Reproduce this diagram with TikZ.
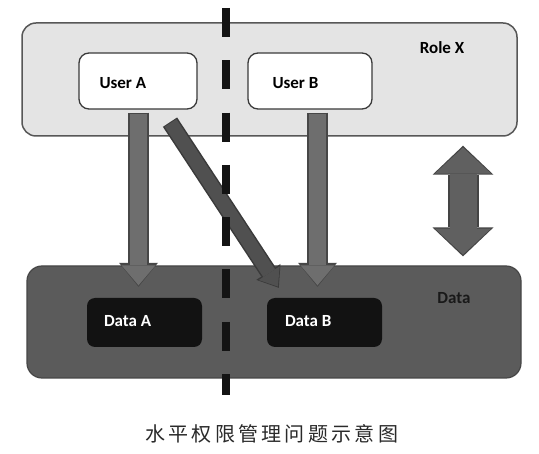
\documentclass[tikz,border=0pt]{standalone}
\usepackage{fontspec}
\setmainfont{Carlito}
\newfontfamily\cjk{Noto Sans CJK SC}[LetterSpace=16.5]
\usetikzlibrary{arrows.meta,calc}
\definecolor{rolefill}{HTML}{E4E4E4}
\definecolor{rolestroke}{HTML}{575757}
\definecolor{userstroke}{HTML}{3A3A3A}
\definecolor{datafill}{HTML}{5B5B5B}
\definecolor{datastroke}{HTML}{464646}
\definecolor{itemfill}{HTML}{121212}
\definecolor{arrowbody}{HTML}{6E6E6E}
\definecolor{arrowedge}{HTML}{474747}
\definecolor{diagbody}{HTML}{505050}
\definecolor{diagedge}{HTML}{3A3A3A}
\definecolor{dblbody}{HTML}{606060}
\definecolor{dbledge}{HTML}{444444}
\definecolor{captxt}{HTML}{2A2A2A}
\tikzset{
  rolebox/.style={draw=rolestroke, line width=1.5pt, fill=rolefill, rounded corners=14pt, inner sep=0pt},
  userbox/.style={draw=userstroke, line width=1.3pt, fill=white, rounded corners=10pt, inner sep=0pt},
  databox/.style={draw=datastroke, line width=1.2pt, fill=datafill, rounded corners=15pt, inner sep=0pt},
  itembox/.style={fill=itemfill, rounded corners=8pt, inner sep=0pt},
  lbl/.style={font=\fontsize{17}{20}\selectfont\bfseries, inner sep=0pt},
  vedge/.style={draw=arrowedge, line width=21.5pt, shorten <=3pt, shorten >=11pt,
    -{Triangle[width=39pt,length=24pt,line width=0pt]}},
  vbody/.style={draw=arrowbody, line width=17pt, shorten <=4pt, shorten >=12.5pt,
    -{Triangle[width=34pt,length=20pt,line width=0pt]}},
  dedge/.style={draw=diagedge, line width=17pt, shorten <=0pt, shorten >=0pt,
    -{Triangle[width=29pt,length=19pt,line width=0pt]}},
  dbody/.style={draw=diagbody, line width=14pt, shorten <=1pt, shorten >=1.5pt,
    -{Triangle[width=25pt,length=16pt,line width=0pt]}},
  dbledge/.style={draw=dbledge, line width=31pt, shorten <=9pt, shorten >=9pt,
    {Triangle[width=61pt,length=29pt,line width=0pt]}-{Triangle[width=61pt,length=29pt,line width=0pt]}},
  dblbody/.style={draw=dblbody, line width=27pt, shorten <=10.8pt, shorten >=10.8pt,
    {Triangle[width=56pt,length=26pt,line width=0pt]}-{Triangle[width=56pt,length=26pt,line width=0pt]}},
  divider/.style={draw=black!92, line width=8pt, dash pattern=on 29pt off 23.3pt},
  caption/.style={font=\cjk\fontsize{20}{24}\selectfont, text=captxt, inner sep=0pt}
}
\begin{document}
\begin{tikzpicture}[x=1pt,y=-1pt]
\useasboundingbox (0,0) rectangle (539,454);
\fill[white] (0,0) rectangle (539,454);

% boxes
\node[rolebox, minimum width=495pt, minimum height=113pt] (role) at (269.5,79.5) {};
\node[userbox, minimum width=118pt, minimum height=56pt] (ua) at (138,81) {};
\node[userbox, minimum width=124pt, minimum height=56pt] (ub) at (310,81) {};
\node[lbl, anchor=west] (uat) at ($(ua.west)+(21,2)$) {User A};
\node[lbl, anchor=west] (ubt) at ($(ub.west)+(25,2)$) {User B};
\node[lbl] (rolet) at (442,48) {Role X};

\node[databox, minimum width=494pt, minimum height=112pt] (data) at (274,322) {};
\node[itembox, minimum width=115pt, minimum height=49pt] (da) at (144.5,322.5) {};
\node[itembox, minimum width=115pt, minimum height=49pt] (db) at (324.5,322.5) {};
\node[lbl, anchor=west, text=white] (dat) at ($(da.west)+(17,-1)$) {Data A};
\node[lbl, anchor=west, text=white] (dbt) at ($(db.west)+(18,-1)$) {Data B};
\node[lbl, text=black!90] (datat) at (454,298) {Data};

% helper coordinates
\coordinate (a1) at ($(ua.south)+(0.5,0)$);
\coordinate (b1) at ($(ub.south)+(7.5,0)$);
\coordinate (c1) at ($(ua.south)+(32,12.5)$);
\coordinate (c2) at ($(db.north west)+(12,-10)$);
\coordinate (dx) at (463,0);

% arrows
\draw[vedge] (a1) -- (a1 |- da.north);
\draw[vbody] (a1) -- (a1 |- da.north);
\draw[vedge] (b1) -- (b1 |- db.north);
\draw[vbody] (b1) -- (b1 |- db.north);
\draw[dedge] (c1) -- (c2);
\draw[dbody] (c1) -- (c2);
\draw[dbledge] (role.south -| dx) -- (data.north -| dx);
\draw[dblbody] (role.south -| dx) -- (data.north -| dx);

% dashed divider
\coordinate (dtop) at (225.5,8);
\coordinate (dbot) at (225.5,395);
\draw[divider] (dtop) -- (dbot);

% caption
\node[caption] (cap) at (271.7,434) {水平权限管理问题示意图};
\end{tikzpicture}
\end{document}
